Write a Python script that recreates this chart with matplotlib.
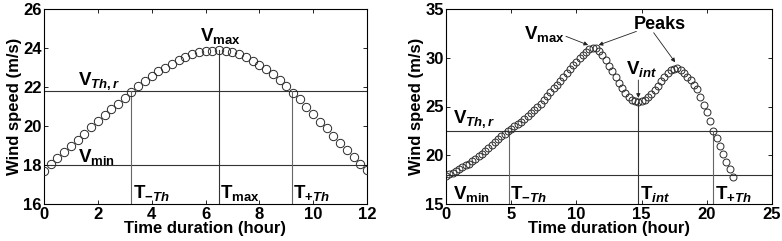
import matplotlib
matplotlib.use("Agg")
import matplotlib.pyplot as plt

plt.rcParams['font.family'] = ['Liberation Sans', 'DejaVu Sans']
plt.rcParams['font.weight'] = 'bold'
plt.rcParams['mathtext.fontset'] = 'custom'
plt.rcParams['mathtext.rm'] = 'Liberation Sans:bold'
plt.rcParams['mathtext.bf'] = 'Liberation Sans:bold'
plt.rcParams['mathtext.it'] = 'Liberation Sans:bold:italic'
plt.rcParams['mathtext.bfit'] = 'Liberation Sans:bold:italic'

# ---------------- data: left panel ----------------
t_left = [0, 0.25, 0.5, 0.75, 1, 1.25, 1.5, 1.75, 2, 2.25, 2.5, 2.75, 3, 3.25,
          3.5, 3.75, 4, 4.25, 4.5, 4.75, 5, 5.25, 5.5, 5.75, 6, 6.25, 6.5,
          6.75, 7, 7.25, 7.5, 7.75, 8, 8.25, 8.5, 8.75, 9, 9.25, 9.5, 9.75,
          10, 10.25, 10.5, 10.75, 11, 11.25, 11.5, 11.75, 12]
v_left = [17.7, 18.05, 18.35, 18.65, 18.95, 19.3, 19.6, 19.95, 20.25, 20.55,
          20.85, 21.15, 21.45, 21.75, 22.05, 22.3, 22.55, 22.8, 23.0, 23.2,
          23.4, 23.55, 23.67, 23.78, 23.83, 23.87, 23.9, 23.85, 23.78, 23.68,
          23.52, 23.35, 23.15, 22.92, 22.67, 22.38, 22.05, 21.7, 21.37, 21.0,
          20.6, 20.22, 19.88, 19.5, 19.12, 18.75, 18.4, 18.07, 17.75]
left_vth = 21.8
left_vmin = 18.0
left_t_minus = 3.25
left_t_max = 6.5
left_v_max = 23.9
left_t_plus = 9.2

# ---------------- data: right panel ----------------
t_right = [0, 0.25, 0.5, 0.75, 1, 1.25, 1.5, 1.75, 2, 2.25, 2.5, 2.75, 3, 3.25,
           3.5, 3.75, 4, 4.25, 4.5, 4.75, 5, 5.25, 5.5, 5.75, 6, 6.25, 6.5,
           6.75, 7, 7.25, 7.5, 7.75, 8, 8.25, 8.5, 8.75, 9, 9.25, 9.5, 9.75,
           10, 10.25, 10.5, 10.75, 11, 11.25, 11.5, 11.75, 12, 12.25, 12.5,
           12.75, 13, 13.25, 13.5, 13.75, 14, 14.25, 14.5, 14.75, 15, 15.25,
           15.5, 15.75, 16, 16.25, 16.5, 16.75, 17, 17.25, 17.5, 17.75, 18,
           18.25, 18.5, 18.75, 19, 19.25, 19.5, 19.75, 20, 20.25, 20.5, 20.75,
           21, 21.25, 21.5, 21.75, 22]
v_right = [17.9, 18.05, 18.2, 18.4, 18.55, 18.75, 18.95, 19.15, 19.4, 19.65,
           19.9, 20.15, 20.45, 20.75, 21.05, 21.35, 21.65, 21.95, 22.2, 22.45,
           22.7, 22.95, 23.2, 23.45, 23.75, 24.0, 24.3, 24.6, 24.95, 25.3,
           25.65, 26.05, 26.45, 26.85, 27.25, 27.65, 28.05, 28.45, 28.85, 29.25,
           29.6, 29.95, 30.3, 30.6, 30.85, 31.0, 30.95, 30.7, 30.3, 29.8,
           29.2, 28.6, 28.0, 27.4, 26.9, 26.4, 26.0, 25.7, 25.55, 25.5,
           25.55, 25.7, 25.95, 26.3, 26.7, 27.1, 27.6, 28.0, 28.4, 28.7,
           28.85, 28.9, 28.75, 28.45, 28.05, 27.7, 27.25, 26.75, 25.95, 25.2,
           24.45, 23.55, 22.5, 21.8, 20.95, 20.1, 19.35, 18.55, 17.8]
right_vth = 22.5
right_vmin = 18.0
right_t_minus = 4.8
right_t_int = 14.75
right_v_int = 25.5
right_t_plus = 20.5

LINE = '#333333'
VLINE = '#666666'
MARK = '#2a2a2a'

fig = plt.figure(figsize=(7.82, 2.41), dpi=100)
ax1 = fig.add_axes([44 / 782, 1 - 204 / 241, 323 / 782, 195 / 241])
ax2 = fig.add_axes([446 / 782, 1 - 204 / 241, 326 / 782, 195 / 241])

TFS = 12
for ax in (ax1, ax2):
    ax.tick_params(direction='in', top=True, right=True, labelsize=TFS,
                   length=3, width=0.6)
    ax.tick_params(axis='x', pad=2.5)
    ax.tick_params(axis='y', pad=1.5)
    for s in ax.spines.values():
        s.set_linewidth(0.8)
    ax.set_xlabel('Time duration (hour)', fontsize=TFS, fontweight='bold', labelpad=-1)
    ax.set_ylabel('Wind speed (m/s)', fontsize=TFS, fontweight='bold', labelpad=1)

# ---------------- left panel ----------------
ax1.set_xlim(0, 12)
ax1.set_ylim(16, 26)
ax1.set_xticks([0, 2, 4, 6, 8, 10, 12])
ax1.set_yticks([16, 18, 20, 22, 24, 26])
ax1.axhline(left_vth, color=LINE, lw=0.8, zorder=1)
ax1.axhline(left_vmin, color=LINE, lw=0.8, zorder=1)
ax1.plot([left_t_minus, left_t_minus], [16, left_vth], color=VLINE, lw=0.8, zorder=1)
ax1.plot([left_t_max, left_t_max], [16, left_v_max], color=LINE, lw=0.8, zorder=1)
ax1.plot([left_t_plus, left_t_plus], [16, left_vth], color=VLINE, lw=0.8, zorder=1)
ax1.plot(t_left, v_left, 'o', mfc='none', mec=MARK, ms=6, mew=0.7, zorder=3)
for lab in ax1.get_xticklabels() + ax1.get_yticklabels():
    lab.set_fontweight('bold')

fs = 13.5
ax1.text(1.25, 22.1, r'$\mathrm{V}_{\mathit{Th,r}}$', fontsize=fs)
ax1.text(1.25, 18.15, r'$\mathrm{V}_{\mathrm{min}}$', fontsize=fs)
ax1.text(5.8, 24.35, r'$\mathrm{V}_{\mathrm{max}}$', fontsize=fs)
ax1.text(3.3, 16.3, r'$\mathrm{T}_{\mathit{-Th}}$', fontsize=fs)
ax1.text(6.55, 16.3, r'$\mathrm{T}_{\mathrm{max}}$', fontsize=fs)
ax1.text(9.25, 16.3, r'$\mathrm{T}_{\mathit{+Th}}$', fontsize=fs)

# ---------------- right panel ----------------
ax2.set_xlim(0, 25)
ax2.set_ylim(15, 35)
ax2.set_xticks([0, 5, 10, 15, 20, 25])
ax2.set_yticks([15, 20, 25, 30, 35])
ax2.axhline(right_vth, color=LINE, lw=0.8, zorder=1)
ax2.axhline(right_vmin, color=LINE, lw=0.8, zorder=1)
ax2.plot([right_t_minus, right_t_minus], [15, right_vth], color=VLINE, lw=0.8, zorder=1)
ax2.plot([right_t_int, right_t_int], [15, right_v_int], color=LINE, lw=0.8, zorder=1)
ax2.plot([right_t_plus, right_t_plus], [15, right_vth], color=VLINE, lw=0.8, zorder=1)
ax2.plot(t_right, v_right, 'o', mfc='none', mec=MARK, ms=5, mew=0.7, zorder=3)
for lab in ax2.get_xticklabels() + ax2.get_yticklabels():
    lab.set_fontweight('bold')

ap = dict(arrowstyle='-|>', color='#222222', lw=0.6, mutation_scale=6)
ax2.text(6.0, 31.9, r'$\mathrm{V}_{\mathrm{max}}$', fontsize=fs)
ax2.annotate('', xy=(11.1, 31.2), xytext=(9.0, 32.3), arrowprops=ap)
ax2.text(16.4, 32.9, 'Peaks', fontsize=fs - 0.5, fontweight='bold', ha='center')
ax2.annotate('', xy=(11.5, 31.2), xytext=(14.8, 32.8), arrowprops=ap)
ax2.annotate('', xy=(17.7, 29.3), xytext=(15.8, 32.8), arrowprops=ap)
ax2.text(13.8, 28.3, r'$\mathrm{V}_{\mathit{int}}$', fontsize=fs)
ax2.annotate('', xy=(right_t_int, 25.6), xytext=(right_t_int, 28.0), arrowprops=ap)
ax2.text(0.5, 15.5, r'$\mathrm{V}_{\mathrm{min}}$', fontsize=fs)
ax2.text(0.5, 23.3, r'$\mathrm{V}_{\mathit{Th,r}}$', fontsize=fs)
ax2.text(4.9, 15.5, r'$\mathrm{T}_{\mathit{-Th}}$', fontsize=fs)
ax2.text(14.9, 15.5, r'$\mathrm{T}_{\mathit{int}}$', fontsize=fs)
ax2.text(20.6, 15.5, r'$\mathrm{T}_{\mathit{+Th}}$', fontsize=fs)

fig.savefig('out.png', dpi=100)
